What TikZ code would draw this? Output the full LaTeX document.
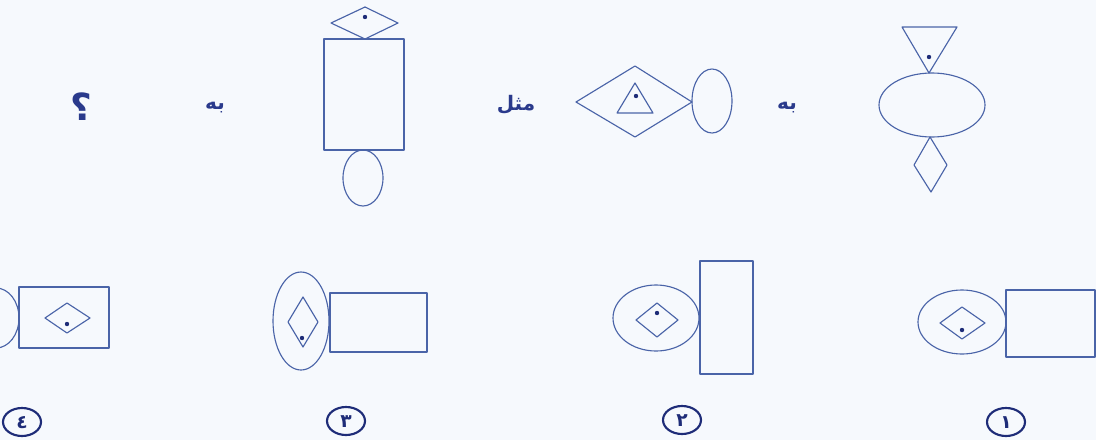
\documentclass[tikz,border=0pt]{standalone}
\usepackage{fontspec}
\TeXXeTstate=1
\newfontfamily\arabicfont[Script=Arabic]{DejaVu Sans}
\definecolor{lineblue}{HTML}{4A64A8}
\definecolor{navy}{HTML}{1E2C78}
\definecolor{textblue}{HTML}{2A3A8C}
\definecolor{bgcol}{HTML}{F6F9FD}
\tikzset{
  shp/.style={draw=lineblue, line width=0.85pt, line join=round},
  dotmark/.style={fill=navy},
  numcircle/.style={draw=navy, line width=1.6pt},
  numtext/.style={text=navy, font=\arabicfont\fontsize{14}{14}\selectfont\bfseries, inner sep=0pt},
  word/.style={text=textblue, font=\arabicfont\fontsize{15}{15}\selectfont\bfseries, inner sep=0pt},
}
\begin{document}
\begin{tikzpicture}[x=0.75pt,y=-0.75pt]
\useasboundingbox (0,0) rectangle (1096,440);
\fill[bgcol] (0,0) rectangle (1096,440);
\clip (0,0) rectangle (1096,440);
% ---------- top row ----------
% figure A (right)
\draw[shp] (902,27) -- (957,27) -- (929,73) -- cycle;
\fill[dotmark] (929,57) circle (2.2);
\draw[shp] (932,105) ellipse [x radius=53, y radius=32];
\draw[shp] (930,137) -- (947,165) -- (931,192) -- (914,165) -- cycle;
\node[word] (w1) at (787,108) {\beginR به\endR};
% figure B
\draw[shp] (576,102) -- (635,66) -- (692,102) -- (635,137) -- cycle;
\draw[shp] (635,83) -- (653,113) -- (617,113) -- cycle;
\fill[dotmark] (636,96) circle (2.2);
\draw[shp] (712,101) ellipse [x radius=20, y radius=32];
\node[word] (w2) at (516,105) {\beginR مثل\endR};
% figure C
\draw[shp] (331,23) -- (365,7) -- (398,23) -- (365,39) -- cycle;
\fill[dotmark] (365,17) circle (2.2);
\draw[shp] (324,39) rectangle (404,150);
\draw[shp] (363,178) ellipse [x radius=20, y radius=28];
\node[word] (w3) at (215,108) {\beginR به\endR};
\node[text=textblue, font=\arabicfont\fontsize{28}{28}\selectfont\bfseries, inner sep=0pt] (q) at (81,107) {\beginR ؟\endR};
% ---------- bottom row ----------
% option 1
\draw[shp] (962,322) ellipse [x radius=44, y radius=32];
\draw[shp] (940,323) -- (962,307) -- (985,323) -- (962,339) -- cycle;
\fill[dotmark] (962,330) circle (2.2);
\draw[shp] (1006,290) rectangle (1095,357);
\draw[numcircle] (1006,422) ellipse [x radius=19, y radius=14];
\node[numtext] (n1) at (1006,423) {\beginR ١\endR};
% option 2
\draw[shp] (656,318) ellipse [x radius=43, y radius=33];
\draw[shp] (636,320) -- (657,303) -- (678,320) -- (657,337) -- cycle;
\fill[dotmark] (657,313) circle (2.2);
\draw[shp] (700,261) rectangle (753,374);
\draw[numcircle] (682,420) ellipse [x radius=19, y radius=14];
\node[numtext] (n2) at (682,421) {\beginR ٢\endR};
% option 3
\draw[shp] (301,321) ellipse [x radius=28, y radius=49];
\draw[shp] (288,322) -- (303,297) -- (318,322) -- (303,347) -- cycle;
\fill[dotmark] (302,338) circle (2.2);
\draw[shp] (330,293) rectangle (427,352);
\draw[numcircle] (346,421) ellipse [x radius=19, y radius=14];
\node[numtext] (n3) at (346,422) {\beginR ٣\endR};
% option 4
\draw[shp] (-4,318) ellipse [x radius=23, y radius=30];
\draw[shp] (19,287) rectangle (109,348);
\draw[shp] (45,318) -- (67,303) -- (90,318) -- (67,333) -- cycle;
\fill[dotmark] (67,324) circle (2.2);
\draw[numcircle] (22,422) ellipse [x radius=19, y radius=14];
\node[numtext] (n4) at (22,423) {\beginR ٤\endR};
\end{tikzpicture}
\end{document}
